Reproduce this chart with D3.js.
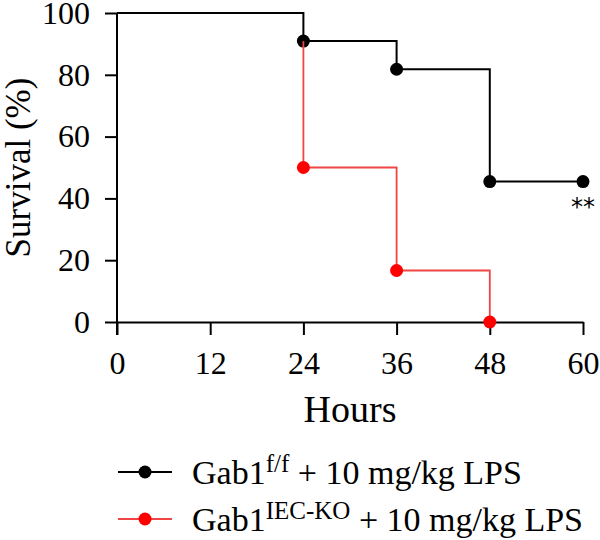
<!DOCTYPE html>
<html lang="en">
<head>
  <meta charset="UTF-8">
  <title>Survival</title>
  <script src="https://d3js.org/d3.v7.min.js"></script>
  <style>
    body { margin: 0; background: #fff; }
    text { font-family: "Liberation Serif", "Times New Roman", serif; fill: #000; }
  </style>
</head>
<body>
<div id="chart"></div>
<script>
  // Kaplan-Meier data
  const hours = [0, 24, 36, 48, 60];
  const flox = [100, 90.9, 81.8, 45.45, 45.45];       // Gab1 f/f
  const ieckoHours = [0, 24, 36, 48];
  const iecko = [100, 50, 16.67, 0];                 // Gab1 IEC-KO
  const xTicks = [0, 12, 24, 36, 48, 60];
  const yTicks = [0, 20, 40, 60, 80, 100];

  const W = 600, H = 540;
  const margin = { top: 13, right: 17, bottom: 218, left: 117 };
  const width = W - margin.left - margin.right;
  const height = H - margin.top - margin.bottom;

  const svg = d3.select("#chart").append("svg")
    .attr("width", W).attr("height", H);
  const g = svg.append("g")
    .attr("transform", `translate(${margin.left},${margin.top})`);

  const x = d3.scaleLinear().domain([0, 60]).range([0, width]);
  const y = d3.scaleLinear().domain([0, 100]).range([height, 0]);

  // axes
  const xAxis = g.append("g")
    .attr("transform", `translate(0,${height})`)
    .call(d3.axisBottom(x).tickValues(xTicks).tickSize(13).tickPadding(16).tickSizeOuter(0));
  const yAxis = g.append("g")
    .call(d3.axisLeft(y).tickValues(yTicks).tickSize(12).tickPadding(15).tickSizeOuter(0));
  [xAxis, yAxis].forEach(a => {
    a.selectAll("path, line").attr("stroke", "#000").attr("stroke-width", 2);
    a.selectAll("text").style("font-size", "32px");
  });
  // y axis line continues down like the x tick at 0
  yAxis.select(".domain").attr("d", `M0,0V${height + 13}`);

  // axis titles
  g.append("text")
    .attr("x", width / 2).attr("y", height + 100)
    .attr("text-anchor", "middle")
    .style("font-size", "38px")
    .text("Hours");
  g.append("text")
    .attr("transform", `translate(${-margin.left + 30},${height / 2}) rotate(-90)`)
    .attr("text-anchor", "middle")
    .style("font-size", "35px")
    .text("Survival (%)");

  const line = d3.line().curve(d3.curveStepAfter);
  const redLine = "#ef4545", red = "#ff0000";

  // black curve
  g.append("path")
    .attr("d", line(hours.map((h, i) => [x(h), y(flox[i])])))
    .attr("fill", "none").attr("stroke", "#000").attr("stroke-width", 2);
  g.selectAll(".dotb").data(hours.slice(1))
    .enter().append("circle")
    .attr("cx", d => x(d)).attr("cy", (d, i) => y(flox[i + 1]))
    .attr("r", 6.5).attr("fill", "#000");

  // red curve (its first step is hidden under the black one)
  const redPts = ieckoHours.map((h, i) => [x(h), y(iecko[i])]);
  g.append("path")
    .attr("d", line(redPts.slice(1)))
    .attr("fill", "none").attr("stroke", redLine).attr("stroke-width", 1.8);
  g.append("line")
    .attr("x1", x(24)).attr("x2", x(24))
    .attr("y1", y(flox[1])).attr("y2", y(iecko[1]))
    .attr("stroke", redLine).attr("stroke-width", 1.8);
  g.selectAll(".dotr").data(ieckoHours.slice(1))
    .enter().append("circle")
    .attr("cx", d => x(d)).attr("cy", (d, i) => y(iecko[i + 1]))
    .attr("r", 6.5).attr("fill", red);

  // significance
  g.append("text")
    .attr("x", x(60)).attr("y", y(flox[4]) + 33)
    .attr("text-anchor", "middle")
    .style("font-family", "'DejaVu Sans', sans-serif")
    .style("font-size", "24px")
    .text("**");

  // legend
  const legend = [
    { sup: "f/f", stroke: "#000", fill: "#000" },
    { sup: "IEC-KO", stroke: redLine, fill: red }
  ];
  const lg = svg.append("g").attr("transform", "translate(118,472)");
  legend.forEach((d, i) => {
    const row = lg.append("g").attr("transform", `translate(0,${i * 47})`);
    row.append("line").attr("x1", 0).attr("x2", 54).attr("y1", 0).attr("y2", 0)
      .attr("stroke", d.stroke).attr("stroke-width", 2);
    row.append("circle").attr("cx", 27).attr("cy", 0).attr("r", 6.5).attr("fill", d.fill);
    const t = row.append("text").attr("x", 74).attr("y", 12).style("font-size", "34px");
    t.append("tspan").text("Gab1");
    t.append("tspan").attr("dy", -12).style("font-size", "25px").text(d.sup);
    t.append("tspan").attr("dy", 12).text(" + 10 mg/kg LPS");
  });
</script>
</body>
</html>
